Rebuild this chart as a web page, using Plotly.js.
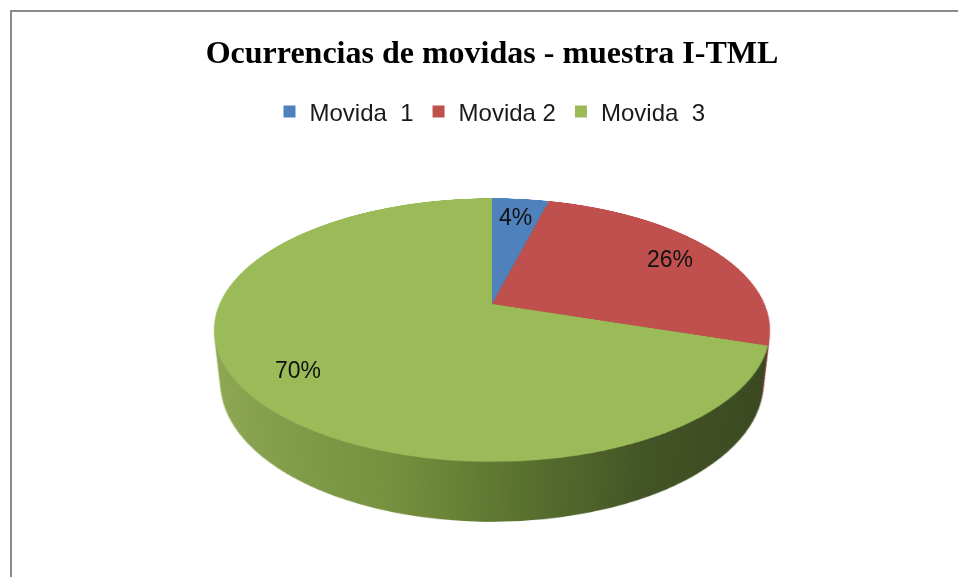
<!DOCTYPE html>
<html><head><meta charset="utf-8">
<script src="https://cdn.plot.ly/plotly-3.0.1.min.js"></script>
<style>html,body{margin:0;padding:0;background:#fff;overflow:hidden}</style>
</head><body><div id="chart" style="width:958px;height:577px"></div>
<script>
// ---- data ----
const categories = ['Movida\u00a0\u00a01', 'Movida 2', 'Movida\u00a0\u00a03'];
const values = [4, 26, 70];
const topColors = ['#4f81bd', '#c0504d', '#9bbb59'];
const sideColors = ['#3b618f', '#8e3a38', '#6b843c'];
const titleText = 'Ocurrencias de movidas - muestra I-TML';

// ---- view / style constants ----
const W = 958, H = 577;
const TILT_DEG = 62.3;   // rotation of the pie plane (3D view)
const PERSP = 1225;      // perspective distance, px
const THICK = 60;        // pie thickness, px
const LAYERS = 16;       // layers used to build the side wall
const domainX = [0.22905, 0.79815];
const domainY = [0.0007, 0.9456];
const LABEL_R = 0.8;

const gd = document.getElementById('chart');

const traces = [];
for (let i = LAYERS; i >= 1; i--) {
  traces.push({
    type: 'pie', values: values, labels: categories, sort: false,
    direction: 'clockwise', rotation: 0, textinfo: 'none', hoverinfo: 'skip',
    showlegend: false, marker: {colors: sideColors, line: {width: 0}},
    domain: {x: domainX, y: domainY}
  });
}
traces.push({
  type: 'pie', values: values, labels: categories, sort: false,
  direction: 'clockwise', rotation: 0, textinfo: 'none', hoverinfo: 'skip',
  showlegend: true, marker: {colors: topColors, line: {width: 0}},
  domain: {x: domainX, y: domainY}
});

// geometry of the pie as Plotly lays it out
const cxPx = W * (domainX[0] + domainX[1]) / 2;
const cyPx = H * (1 - (domainY[0] + domainY[1]) / 2);
const rPx = Math.min(W * (domainX[1] - domainX[0]), H * (domainY[1] - domainY[0])) / 2;
const aRad = TILT_DEG * Math.PI / 180;

function project(x, y) { // in-plane offset from centre -> screen offset
  const k = PERSP / (PERSP - y * Math.sin(aRad));
  return [x * k, y * Math.cos(aRad) * k];
}

// percentage labels at slice mid-angles
const total = values.reduce((a, b) => a + b, 0);
let cum = 0;
const labelAnnots = values.map(v => {
  const mid = (cum + v / 2) / total * 2 * Math.PI;
  cum += v;
  const p = project(LABEL_R * rPx * Math.sin(mid), -LABEL_R * rPx * Math.cos(mid));
  return {
    text: Math.round(v / total * 100) + '%', xref: 'paper', yref: 'paper',
    x: (cxPx + p[0]) / W, y: 1 - (cyPx + p[1]) / H, showarrow: false,
    xanchor: 'center', yanchor: 'middle',
    font: {family: 'Liberation Sans, Arial, sans-serif', size: 23, color: '#111'}
  };
});

// chart-area frame (left and top edges visible)
const frame = {
  text: '\u00a0', xref: 'paper', yref: 'paper', x: 9.5 / W, y: 1 - 10 / H,
  xanchor: 'left', yanchor: 'top', showarrow: false, width: 1400, height: 1000,
  bordercolor: '#8c8c8c', borderwidth: 2, borderpad: 0, bgcolor: 'rgba(0,0,0,0)'
};

const layout = {
  width: W, height: H, autosize: false,
  margin: {l: 0, r: 0, t: 0, b: 0, pad: 0},
  paper_bgcolor: 'rgba(0,0,0,0)',
  title: {
    text: titleText, x: 492 / W, xanchor: 'center', xref: 'container',
    y: 1 - 52 / H, yanchor: 'middle', yref: 'container',
    font: {family: 'Liberation Serif, Times New Roman, serif', size: 32, color: '#000', weight: 700}
  },
  legend: {
    orientation: 'h', x: 490 / W, xanchor: 'center', y: 1 - 112 / H, yanchor: 'middle',
    font: {family: 'Liberation Sans, Arial, sans-serif', size: 24, color: '#1a1a1a'},
    itemwidth: 30, bgcolor: 'rgba(0,0,0,0)'
  },
  annotations: labelAnnots.concat([frame])
};

function apply3D() {
  const svg = gd.querySelector('svg.main-svg');
  if (!svg) return;
  const ns = 'http://www.w3.org/2000/svg';
  if (!document.getElementById('sideGrad')) {
    let defs = svg.querySelector('defs');
    if (!defs) { defs = document.createElementNS(ns, 'defs'); svg.insertBefore(defs, svg.firstChild); }
    const g = document.createElementNS(ns, 'linearGradient');
    g.setAttribute('id', 'sideGrad');
    g.setAttribute('x1', '0'); g.setAttribute('x2', '1'); g.setAttribute('y1', '0'); g.setAttribute('y2', '0');
    [['0', '#8fa955'], ['0.35', '#76923f'], ['0.55', '#5b7330'], ['0.75', '#435425'], ['1', '#3a4821']].forEach(s => {
      const st = document.createElementNS(ns, 'stop');
      st.setAttribute('offset', s[0]); st.setAttribute('stop-color', s[1]);
      g.appendChild(st);
    });
    defs.appendChild(g);
  }
  const top = gd.calcdata && gd.calcdata[LAYERS] && gd.calcdata[LAYERS][0];
  const cx = (top && isFinite(top.cx)) ? top.cx : cxPx;
  const cy = (top && isFinite(top.cy)) ? top.cy : cyPx;
  const D = PERSP * Math.cos(aRad);
  const hy = cy + PERSP * Math.sin(aRad);
  const groups = gd.querySelectorAll('.pielayer > g.trace');
  groups.forEach((g, idx) => {
    if (idx < LAYERS) {
      const h = THICK * (LAYERS - idx) / LAYERS;
      const t = D / (D + h);
      g.setAttribute('transform', 'translate(' + cx + ',' + hy + ') scale(' + t + ') translate(' + (-cx) + ',' + (-hy) + ')');
      const paths = g.querySelectorAll('g.slice path.surface');
      if (paths[2]) paths[2].style.fill = 'url(#sideGrad)';
    }
  });
  svg.style.setProperty('overflow', 'visible', 'important');
  svg.style.transformOrigin = cx + 'px ' + cy + 'px';
  svg.style.transform = 'perspective(' + PERSP + 'px) rotateX(' + TILT_DEG + 'deg)';
}

Plotly.newPlot(gd, traces, layout, {staticPlot: true, displayModeBar: false}).then(apply3D);
gd.on && gd.on('plotly_afterplot', apply3D);
</script>
</body></html>
